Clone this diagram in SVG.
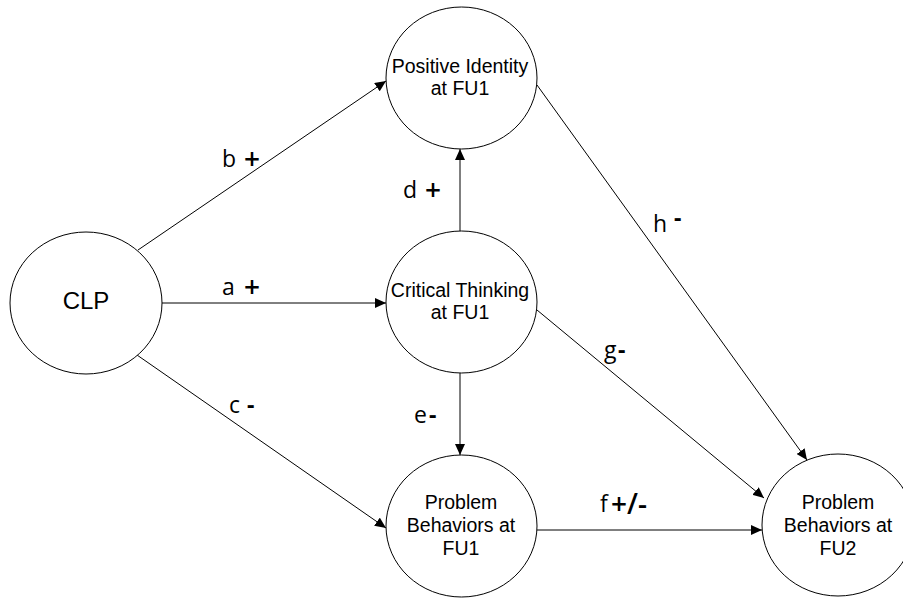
<svg xmlns="http://www.w3.org/2000/svg" width="903" height="598" viewBox="0 0 903 598">
<style>
.node{fill:#fff;stroke:#000;stroke-width:1}
.nt{font-family:"Liberation Sans",Arial,sans-serif;font-size:19.5px;fill:#000;text-anchor:middle}
.edge{stroke:#000;stroke-width:1;fill:none;marker-end:url(#arr)}
.lb{font-family:"Open Sans","DejaVu Sans",sans-serif;font-size:23px;fill:#000}
.sg{font-size:28px;font-weight:600}
.ds{font-weight:700}
</style>
<defs>
<marker id="arr" markerWidth="12" markerHeight="10" refX="11" refY="5" orient="auto" markerUnits="userSpaceOnUse">
<path d="M0,0 L11,5 L0,10 z" fill="#000"/>
</marker>
</defs>
<rect width="903" height="598" fill="#fff"/>
<g id="connectors">
<line class="edge" x1="138" y1="250" x2="386" y2="81"/>
<line class="edge" x1="162" y1="303" x2="386" y2="303"/>
<line class="edge" x1="137" y1="355" x2="386" y2="528"/>
<line class="edge" x1="460" y1="231" x2="460" y2="149"/>
<line class="edge" x1="460" y1="373" x2="460" y2="455"/>
<line class="edge" x1="537" y1="530" x2="762" y2="530"/>
<line class="edge" x1="537" y1="310" x2="764" y2="498"/>
<line class="edge" x1="537" y1="85" x2="807" y2="460"/>
</g>
<g id="edge-labels">
<text class="lb" x="222" y="167">b<tspan class="sg" x="244" y="169">+</tspan></text>
<text class="lb" x="222" y="295">a<tspan class="sg" x="244" y="297">+</tspan></text>
<text class="lb" x="229" y="413">c<tspan class="ds" x="247">-</tspan></text>
<text class="lb" x="403" y="198">d<tspan class="sg" x="425" y="200">+</tspan></text>
<text class="lb" x="414" y="423">e<tspan class="ds" x="429">-</tspan></text>
<text class="lb" x="653" y="232">h<tspan class="ds" x="674" y="226">-</tspan></text>
<text class="lb" x="604" y="358">g<tspan class="ds" x="618">-</tspan></text>
<text class="lb" x="600" y="512">f<tspan class="sg" x="611" y="514">+/-</tspan></text>
</g>
<g id="node-clp">
<ellipse class="node" cx="86" cy="303" rx="76" ry="71"/>
<text class="nt" x="86" y="309" style="font-size:24px">CLP</text>
</g>
<g id="node-pi">
<ellipse class="node" cx="461.5" cy="78" rx="75.5" ry="71"/>
<text class="nt" x="460" y="73">Positive Identity</text>
<text class="nt" x="460" y="95">at FU1</text>
</g>
<g id="node-ct">
<ellipse class="node" cx="461.5" cy="302" rx="75.5" ry="71"/>
<text class="nt" x="460" y="297">Critical Thinking</text>
<text class="nt" x="460" y="319">at FU1</text>
</g>
<g id="node-pb1">
<ellipse class="node" cx="461.5" cy="526" rx="75.5" ry="71"/>
<text class="nt" x="461" y="509">Problem</text>
<text class="nt" x="461" y="532">Behaviors at</text>
<text class="nt" x="461" y="555">FU1</text>
</g>
<g id="node-pb2">
<ellipse class="node" cx="838" cy="525" rx="76" ry="71"/>
<text class="nt" x="838" y="509">Problem</text>
<text class="nt" x="838" y="532">Behaviors at</text>
<text class="nt" x="838" y="555">FU2</text>
</g>
</svg>
